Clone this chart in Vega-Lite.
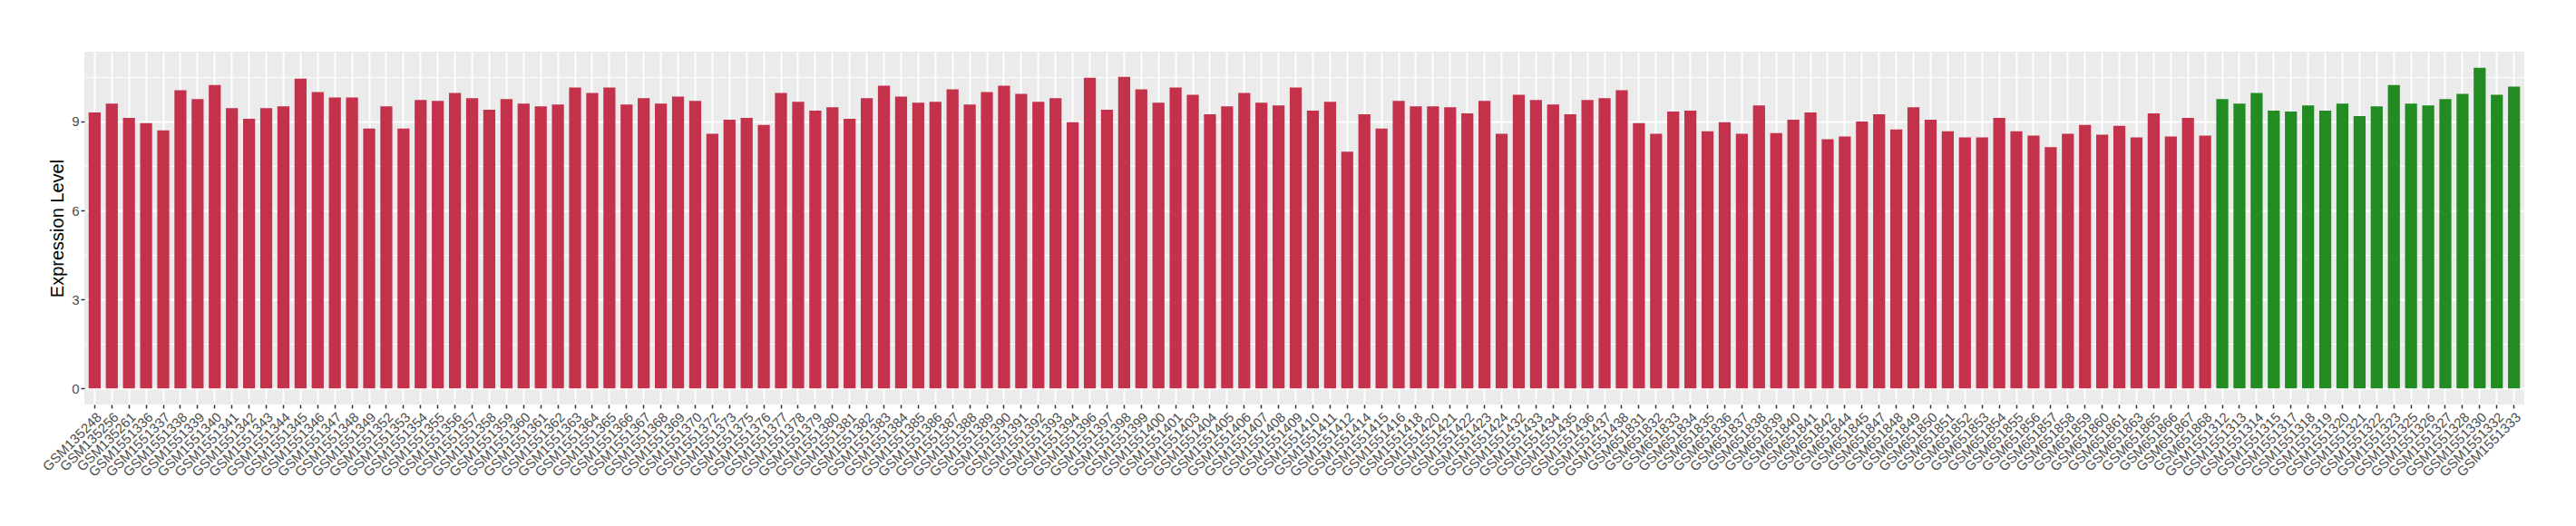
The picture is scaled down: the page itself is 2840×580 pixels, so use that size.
{
  "$schema": "https://vega.github.io/schema/vega-lite/v6.json",
  "autosize": {"type": "none"},
  "padding": {"left": 93, "top": 57, "right": 57, "bottom": 134},
  "width": 2690,
  "height": 389,
  "background": "#FFFFFF",
  "data": {"values": [
    {"sample": "GSM135248", "value": 9.30, "group": "Tumor"},
    {"sample": "GSM135256", "value": 9.60, "group": "Tumor"},
    {"sample": "GSM135261", "value": 9.12, "group": "Tumor"},
    {"sample": "GSM1551336", "value": 8.94, "group": "Tumor"},
    {"sample": "GSM1551337", "value": 8.70, "group": "Tumor"},
    {"sample": "GSM1551338", "value": 10.05, "group": "Tumor"},
    {"sample": "GSM1551339", "value": 9.75, "group": "Tumor"},
    {"sample": "GSM1551340", "value": 10.23, "group": "Tumor"},
    {"sample": "GSM1551341", "value": 9.45, "group": "Tumor"},
    {"sample": "GSM1551342", "value": 9.09, "group": "Tumor"},
    {"sample": "GSM1551343", "value": 9.45, "group": "Tumor"},
    {"sample": "GSM1551344", "value": 9.51, "group": "Tumor"},
    {"sample": "GSM1551345", "value": 10.44, "group": "Tumor"},
    {"sample": "GSM1551346", "value": 9.99, "group": "Tumor"},
    {"sample": "GSM1551347", "value": 9.81, "group": "Tumor"},
    {"sample": "GSM1551348", "value": 9.81, "group": "Tumor"},
    {"sample": "GSM1551349", "value": 8.76, "group": "Tumor"},
    {"sample": "GSM1551352", "value": 9.51, "group": "Tumor"},
    {"sample": "GSM1551353", "value": 8.76, "group": "Tumor"},
    {"sample": "GSM1551354", "value": 9.72, "group": "Tumor"},
    {"sample": "GSM1551355", "value": 9.69, "group": "Tumor"},
    {"sample": "GSM1551356", "value": 9.96, "group": "Tumor"},
    {"sample": "GSM1551357", "value": 9.78, "group": "Tumor"},
    {"sample": "GSM1551358", "value": 9.39, "group": "Tumor"},
    {"sample": "GSM1551359", "value": 9.75, "group": "Tumor"},
    {"sample": "GSM1551360", "value": 9.60, "group": "Tumor"},
    {"sample": "GSM1551361", "value": 9.51, "group": "Tumor"},
    {"sample": "GSM1551362", "value": 9.57, "group": "Tumor"},
    {"sample": "GSM1551363", "value": 10.14, "group": "Tumor"},
    {"sample": "GSM1551364", "value": 9.96, "group": "Tumor"},
    {"sample": "GSM1551365", "value": 10.14, "group": "Tumor"},
    {"sample": "GSM1551366", "value": 9.57, "group": "Tumor"},
    {"sample": "GSM1551367", "value": 9.78, "group": "Tumor"},
    {"sample": "GSM1551368", "value": 9.60, "group": "Tumor"},
    {"sample": "GSM1551369", "value": 9.84, "group": "Tumor"},
    {"sample": "GSM1551370", "value": 9.69, "group": "Tumor"},
    {"sample": "GSM1551372", "value": 8.58, "group": "Tumor"},
    {"sample": "GSM1551373", "value": 9.06, "group": "Tumor"},
    {"sample": "GSM1551375", "value": 9.12, "group": "Tumor"},
    {"sample": "GSM1551376", "value": 8.88, "group": "Tumor"},
    {"sample": "GSM1551377", "value": 9.96, "group": "Tumor"},
    {"sample": "GSM1551378", "value": 9.66, "group": "Tumor"},
    {"sample": "GSM1551379", "value": 9.36, "group": "Tumor"},
    {"sample": "GSM1551380", "value": 9.48, "group": "Tumor"},
    {"sample": "GSM1551381", "value": 9.09, "group": "Tumor"},
    {"sample": "GSM1551382", "value": 9.78, "group": "Tumor"},
    {"sample": "GSM1551383", "value": 10.20, "group": "Tumor"},
    {"sample": "GSM1551384", "value": 9.84, "group": "Tumor"},
    {"sample": "GSM1551385", "value": 9.63, "group": "Tumor"},
    {"sample": "GSM1551386", "value": 9.66, "group": "Tumor"},
    {"sample": "GSM1551387", "value": 10.08, "group": "Tumor"},
    {"sample": "GSM1551388", "value": 9.57, "group": "Tumor"},
    {"sample": "GSM1551389", "value": 9.99, "group": "Tumor"},
    {"sample": "GSM1551390", "value": 10.20, "group": "Tumor"},
    {"sample": "GSM1551391", "value": 9.93, "group": "Tumor"},
    {"sample": "GSM1551392", "value": 9.66, "group": "Tumor"},
    {"sample": "GSM1551393", "value": 9.78, "group": "Tumor"},
    {"sample": "GSM1551394", "value": 8.97, "group": "Tumor"},
    {"sample": "GSM1551396", "value": 10.47, "group": "Tumor"},
    {"sample": "GSM1551397", "value": 9.39, "group": "Tumor"},
    {"sample": "GSM1551398", "value": 10.50, "group": "Tumor"},
    {"sample": "GSM1551399", "value": 10.08, "group": "Tumor"},
    {"sample": "GSM1551400", "value": 9.63, "group": "Tumor"},
    {"sample": "GSM1551401", "value": 10.14, "group": "Tumor"},
    {"sample": "GSM1551403", "value": 9.90, "group": "Tumor"},
    {"sample": "GSM1551404", "value": 9.24, "group": "Tumor"},
    {"sample": "GSM1551405", "value": 9.51, "group": "Tumor"},
    {"sample": "GSM1551406", "value": 9.96, "group": "Tumor"},
    {"sample": "GSM1551407", "value": 9.63, "group": "Tumor"},
    {"sample": "GSM1551408", "value": 9.54, "group": "Tumor"},
    {"sample": "GSM1551409", "value": 10.14, "group": "Tumor"},
    {"sample": "GSM1551410", "value": 9.36, "group": "Tumor"},
    {"sample": "GSM1551411", "value": 9.66, "group": "Tumor"},
    {"sample": "GSM1551412", "value": 7.98, "group": "Tumor"},
    {"sample": "GSM1551414", "value": 9.24, "group": "Tumor"},
    {"sample": "GSM1551415", "value": 8.76, "group": "Tumor"},
    {"sample": "GSM1551416", "value": 9.69, "group": "Tumor"},
    {"sample": "GSM1551418", "value": 9.51, "group": "Tumor"},
    {"sample": "GSM1551420", "value": 9.51, "group": "Tumor"},
    {"sample": "GSM1551421", "value": 9.48, "group": "Tumor"},
    {"sample": "GSM1551422", "value": 9.27, "group": "Tumor"},
    {"sample": "GSM1551423", "value": 9.69, "group": "Tumor"},
    {"sample": "GSM1551424", "value": 8.58, "group": "Tumor"},
    {"sample": "GSM1551432", "value": 9.90, "group": "Tumor"},
    {"sample": "GSM1551433", "value": 9.72, "group": "Tumor"},
    {"sample": "GSM1551434", "value": 9.57, "group": "Tumor"},
    {"sample": "GSM1551435", "value": 9.24, "group": "Tumor"},
    {"sample": "GSM1551436", "value": 9.72, "group": "Tumor"},
    {"sample": "GSM1551437", "value": 9.78, "group": "Tumor"},
    {"sample": "GSM1551438", "value": 10.05, "group": "Tumor"},
    {"sample": "GSM651831", "value": 8.94, "group": "Tumor"},
    {"sample": "GSM651832", "value": 8.58, "group": "Tumor"},
    {"sample": "GSM651833", "value": 9.33, "group": "Tumor"},
    {"sample": "GSM651834", "value": 9.36, "group": "Tumor"},
    {"sample": "GSM651835", "value": 8.67, "group": "Tumor"},
    {"sample": "GSM651836", "value": 8.97, "group": "Tumor"},
    {"sample": "GSM651837", "value": 8.58, "group": "Tumor"},
    {"sample": "GSM651838", "value": 9.54, "group": "Tumor"},
    {"sample": "GSM651839", "value": 8.61, "group": "Tumor"},
    {"sample": "GSM651840", "value": 9.06, "group": "Tumor"},
    {"sample": "GSM651841", "value": 9.30, "group": "Tumor"},
    {"sample": "GSM651842", "value": 8.40, "group": "Tumor"},
    {"sample": "GSM651844", "value": 8.49, "group": "Tumor"},
    {"sample": "GSM651845", "value": 9.00, "group": "Tumor"},
    {"sample": "GSM651847", "value": 9.24, "group": "Tumor"},
    {"sample": "GSM651848", "value": 8.73, "group": "Tumor"},
    {"sample": "GSM651849", "value": 9.48, "group": "Tumor"},
    {"sample": "GSM651850", "value": 9.06, "group": "Tumor"},
    {"sample": "GSM651851", "value": 8.67, "group": "Tumor"},
    {"sample": "GSM651852", "value": 8.46, "group": "Tumor"},
    {"sample": "GSM651853", "value": 8.46, "group": "Tumor"},
    {"sample": "GSM651854", "value": 9.12, "group": "Tumor"},
    {"sample": "GSM651855", "value": 8.67, "group": "Tumor"},
    {"sample": "GSM651856", "value": 8.52, "group": "Tumor"},
    {"sample": "GSM651857", "value": 8.13, "group": "Tumor"},
    {"sample": "GSM651858", "value": 8.58, "group": "Tumor"},
    {"sample": "GSM651859", "value": 8.88, "group": "Tumor"},
    {"sample": "GSM651860", "value": 8.55, "group": "Tumor"},
    {"sample": "GSM651861", "value": 8.85, "group": "Tumor"},
    {"sample": "GSM651863", "value": 8.46, "group": "Tumor"},
    {"sample": "GSM651865", "value": 9.27, "group": "Tumor"},
    {"sample": "GSM651866", "value": 8.49, "group": "Tumor"},
    {"sample": "GSM651867", "value": 9.12, "group": "Tumor"},
    {"sample": "GSM651868", "value": 8.52, "group": "Tumor"},
    {"sample": "GSM1551312", "value": 9.75, "group": "Normal"},
    {"sample": "GSM1551313", "value": 9.60, "group": "Normal"},
    {"sample": "GSM1551314", "value": 9.96, "group": "Normal"},
    {"sample": "GSM1551315", "value": 9.36, "group": "Normal"},
    {"sample": "GSM1551317", "value": 9.33, "group": "Normal"},
    {"sample": "GSM1551318", "value": 9.54, "group": "Normal"},
    {"sample": "GSM1551319", "value": 9.36, "group": "Normal"},
    {"sample": "GSM1551320", "value": 9.60, "group": "Normal"},
    {"sample": "GSM1551321", "value": 9.18, "group": "Normal"},
    {"sample": "GSM1551322", "value": 9.51, "group": "Normal"},
    {"sample": "GSM1551323", "value": 10.23, "group": "Normal"},
    {"sample": "GSM1551325", "value": 9.60, "group": "Normal"},
    {"sample": "GSM1551326", "value": 9.54, "group": "Normal"},
    {"sample": "GSM1551327", "value": 9.75, "group": "Normal"},
    {"sample": "GSM1551328", "value": 9.93, "group": "Normal"},
    {"sample": "GSM1551330", "value": 10.81, "group": "Normal"},
    {"sample": "GSM1551332", "value": 9.90, "group": "Normal"},
    {"sample": "GSM1551333", "value": 10.17, "group": "Normal"}
  ]},
  "mark": {"type": "bar"},
  "encoding": {
    "x": {
      "field": "sample",
      "type": "nominal",
      "sort": null,
      "scale": {"paddingInner": 0.3, "paddingOuter": 0.25},
      "axis": {
        "title": null,
        "labelAngle": -45,
        "labelAlign": "right",
        "labelBaseline": "top",
        "labelFont": "Liberation Sans",
        "labelFontSize": 15,
        "labelColor": "#4D4D4D",
        "labelPadding": 2,
        "labelOverlap": false,
        "labelBound": false,
        "labelFlush": false,
        "domain": false,
        "ticks": true,
        "tickColor": "#333333",
        "tickSize": 4,
        "tickWidth": 1.5,
        "grid": true,
        "gridColor": "#FFFFFF",
        "gridWidth": 1.8
      }
    },
    "y": {
      "field": "value",
      "type": "quantitative",
      "scale": {"domain": [-0.54, 11.35], "nice": false, "zero": false},
      "axis": {
        "values": [0, 1.5, 3, 4.5, 6, 7.5, 9, 10.5],
        "labelExpr": "datum.value % 3 === 0 ? datum.label : ''",
        "labelFont": "Liberation Sans",
        "labelFontSize": 15,
        "labelColor": "#4D4D4D",
        "labelPadding": 2,
        "domain": false,
        "tickColor": "#333333",
        "tickSize": 4,
        "tickWidth": 1.5,
        "tickOpacity": {"condition": {"test": "datum.value % 3 !== 0", "value": 0}, "value": 1},
        "grid": true,
        "gridColor": "#FFFFFF",
        "gridWidth": {"condition": {"test": "datum.value % 3 !== 0", "value": 0.9}, "value": 1.8},
        "title": "Expression Level",
        "titleFont": "Liberation Sans",
        "titleFontSize": 20,
        "titleFontWeight": "normal",
        "titleColor": "#000000",
        "titleAngle": -90,
        "titleAlign": "center",
        "titleBaseline": "bottom",
        "titleX": -20,
        "titleY": 194.5
      }
    },
    "color": {
      "field": "group",
      "type": "nominal",
      "scale": {"domain": ["Tumor", "Normal"], "range": ["#C4314B", "#228B22"]},
      "legend": null
    }
  },
  "config": {
    "view": {"fill": "#EBEBEB", "stroke": null}
  }
}
